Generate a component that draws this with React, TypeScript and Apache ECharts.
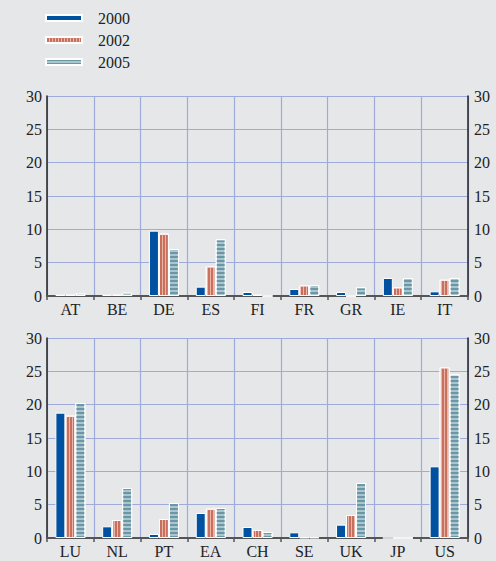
import React, { useEffect, useRef } from "react";
import * as echarts from "echarts";

const topCats = ["AT", "BE", "DE", "ES", "FI", "FR", "GR", "IE", "IT"];
const bottomCats = ["LU", "NL", "PT", "EA", "CH", "SE", "UK", "JP", "US"];
const years = ["2000", "2002", "2005"];

const top2000 = [0.2, 0.2, 9.8, 1.4, 0.6, 1.05, 0.6, 2.7, 0.7];
const top2002 = [0.2, 0.2, 9.35, 4.45, 0.2, 1.6, 0, 1.3, 2.45];
const top2005 = [0.4, 0.5, 7.05, 8.5, 0, 1.65, 1.3, 2.7, 2.7];

const bottom2000 = [18.8, 1.75, 0.6, 3.75, 1.65, 0.85, 2.0, 0, 10.75];
const bottom2002 = [18.35, 2.7, 2.85, 4.4, 1.2, 0.1, 3.45, 0, 25.6];
const bottom2005 = [20.25, 7.5, 5.25, 4.5, 0.9, 0.1, 8.25, 0, 24.55];

const yTicks = [0, 5, 10, 15, 20, 25, 30];

const FONT = "'Liberation Serif', 'Times New Roman', serif";
const GRID_COLOR = "#9eaadb";

const styles = [
  { color: "#0052a0" },
  {
    color: "#c86f5d",
    decal: {
      symbol: "rect",
      symbolSize: 1,
      color: "#ebb5a7",
      dashArrayX: [1, 2],
      dashArrayY: [4, 0],
    },
  },
  {
    color: "#a9c5ce",
    decal: {
      symbol: "rect",
      symbolSize: 1,
      color: "#6a96a6",
      dashArrayX: [4, 0],
      dashArrayY: [1.5, 1.5],
    },
  },
];

export default function App() {
  const ref = useRef<HTMLDivElement>(null);
  useEffect(() => {
    if (!ref.current) return;
    const chart = echarts.init(ref.current, undefined, { renderer: "svg" });
    const grids = [
      { left: 47, right: 28, top: 96, height: 200 },
      { left: 47, right: 28, top: 338, height: 200 },
    ];
    const xAxis = [topCats, bottomCats].map((cats, i) => ({
      type: "category",
      gridIndex: i,
      data: cats,
      axisLine: { show: true, lineStyle: { color: "#555", width: 2 } },
      axisTick: { show: true, length: 4, lineStyle: { color: "#555", width: 1.5 } },
      axisLabel: { fontFamily: FONT, fontSize: 16, color: "#222", margin: 5 },
      splitLine: { show: true, lineStyle: { color: GRID_COLOR, width: 1.2 } },
    }));
    const yAxis: any[] = [];
    [0, 1].forEach((g) => {
      ["left", "right"].forEach((pos) => {
        yAxis.push({
          type: "value",
          gridIndex: g,
          position: pos,
          min: yTicks[0],
          max: yTicks[yTicks.length - 1],
          interval: 5,
          axisLine: { show: true, lineStyle: { color: "#222", width: 1.5 } },
          axisTick: { show: false },
          axisLabel: {
            fontFamily: FONT,
            fontSize: 16,
            color: "#222",
            margin: pos === "left" ? 5 : 6,
          },
          splitLine: { show: pos === "left", lineStyle: { color: GRID_COLOR, width: 1.2 } },
        });
      });
    });
    const data = [
      [top2000, top2002, top2005],
      [bottom2000, bottom2002, bottom2005],
    ];
    const series: any[] = [];
    [0, 1].forEach((g) => {
      years.forEach((y, k) => {
        series.push({
          type: "bar",
          name: y,
          xAxisIndex: g,
          yAxisIndex: g * 2,
          data: data[g][k],
          barWidth: 10,
          barGap: "0%",
          itemStyle: { ...styles[k], borderColor: "#fff", borderWidth: 1 },
        });
      });
    });
    chart.setOption({
      animation: false,
      backgroundColor: "#e6e7e9",
      textStyle: { fontFamily: FONT },
      legend: {
        data: years,
        orient: "vertical",
        left: 40,
        top: 5,
        icon: "rect",
        itemWidth: 36,
        itemHeight: 6,
        itemGap: 6,
        textStyle: {
          fontFamily: FONT,
          fontSize: 16,
          color: "#222",
          padding: [0, 0, 0, 11],
          lineHeight: 16,
        },
      },
      grid: grids,
      xAxis,
      yAxis,
      series,
    });
    return () => chart.dispose();
  }, []);
  return (
    <div
      ref={ref}
      style={{ position: "fixed", left: 0, top: 0, width: 496, height: 561 }}
    />
  );
}
